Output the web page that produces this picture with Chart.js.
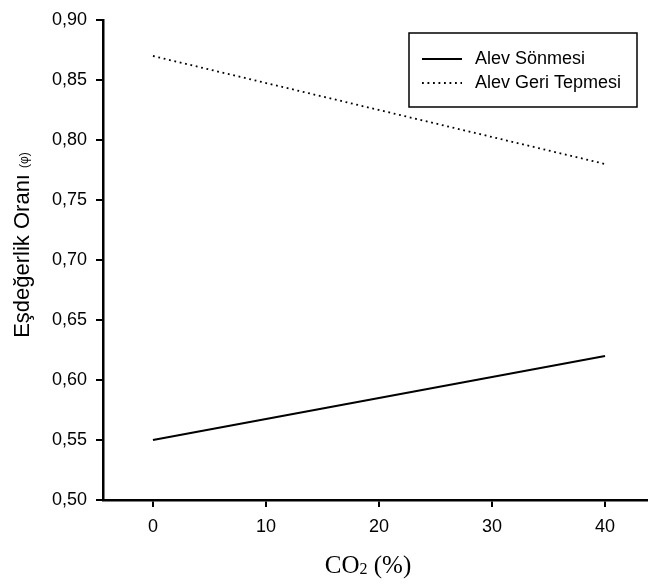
<!DOCTYPE html>
<html>
<head>
<meta charset="utf-8">
<script src="https://cdn.jsdelivr.net/npm/chart.js@4"></script>
<style>
  html, body { margin: 0; padding: 0; background: #fff; }
  #wrap { width: 648px; height: 585px; }
</style>
</head>
<body>
<div id="wrap"><canvas id="c" width="648" height="585"></canvas></div>
<script>
const co2 = [0, 40];
const alevSonmesi = [0.55, 0.62];
const alevGeriTepmesi = [0.87, 0.78];
const xTicks = [0, 10, 20, 30, 40];
const yTicks = [0.50, 0.55, 0.60, 0.65, 0.70, 0.75, 0.80, 0.85, 0.90];
const seriesLabels = ['Alev Sönmesi', 'Alev Geri Tepmesi'];
const xTitleParts = ['CO', '2', ' (%)'];
const yTitleMain = 'Eşdeğerlik Oranı';
const yTitleSub = '(φ)';

const SANS = '"Liberation Sans", Arial, sans-serif';
const SERIF = '"Liberation Serif", "Times New Roman", serif';
const tickFont = { family: SANS, size: 18 };

const titlesAndLegend = {
  id: 'titlesAndLegend',
  afterDraw(chart) {
    const ctx = chart.ctx;
    ctx.save();
    ctx.fillStyle = '#000';
    ctx.textBaseline = 'alphabetic';
    ctx.textAlign = 'left';
    // x title: CO + subscript 2 + (%)
    const big = '25px ' + SERIF, small = '16px ' + SERIF;
    ctx.font = big; const w1 = ctx.measureText(xTitleParts[0]).width;
    ctx.font = small; const w2 = ctx.measureText(xTitleParts[1]).width;
    ctx.font = big; const w3 = ctx.measureText(xTitleParts[2]).width;
    let x0 = 368 - (w1 + w2 + w3) / 2;
    const base = 573;
    ctx.font = big; ctx.fillText(xTitleParts[0], x0, base);
    ctx.font = small; ctx.fillText(xTitleParts[1], x0 + w1, base + 1);
    ctx.font = big; ctx.fillText(xTitleParts[2], x0 + w1 + w2, base);
    ctx.restore();

    // y title (rotated)
    ctx.save();
    ctx.fillStyle = '#000';
    ctx.translate(29, 245);
    ctx.rotate(-Math.PI / 2);
    ctx.font = '22px ' + SANS;
    const mainW = ctx.measureText(yTitleMain + ' ').width;
    ctx.font = '12px ' + SANS;
    const subW = ctx.measureText(yTitleSub).width;
    const total = mainW + subW;
    ctx.textAlign = 'left';
    ctx.textBaseline = 'alphabetic';
    ctx.font = '22px ' + SANS;
    ctx.fillText(yTitleMain, -total / 2, 0);
    ctx.font = '12px ' + SANS;
    ctx.fillText(yTitleSub, -total / 2 + mainW, -1);
    ctx.restore();

    // legend box
    ctx.save();
    const bx = 409, by = 33, bw = 228, bh = 74;
    ctx.strokeStyle = '#000';
    ctx.lineWidth = 1.5;
    ctx.strokeRect(bx, by, bw, bh);
    chart.data.datasets.forEach((ds, i) => {
      const yy = 59 + i * 24;
      ctx.beginPath();
      ctx.setLineDash(ds.borderDash || []);
      ctx.lineWidth = ds.borderWidth;
      ctx.strokeStyle = '#000';
      ctx.moveTo(422, yy);
      ctx.lineTo(462, yy);
      ctx.stroke();
      ctx.setLineDash([]);
      ctx.fillStyle = '#000';
      ctx.font = '18px ' + SANS;
      ctx.textAlign = 'left';
      ctx.textBaseline = 'middle';
      ctx.fillText(ds.label, 475, yy);
    });
    ctx.restore();
  }
};

new Chart(document.getElementById('c'), {
  type: 'line',
  data: {
    datasets: [
      {
        label: seriesLabels[0],
        data: co2.map((x, i) => ({ x, y: alevSonmesi[i] })),
        borderColor: '#000',
        borderWidth: 2,
        pointRadius: 0,
        fill: false
      },
      {
        label: seriesLabels[1],
        data: co2.map((x, i) => ({ x, y: alevGeriTepmesi[i] })),
        borderColor: '#000',
        borderWidth: 1.8,
        borderDash: [1.8, 3.7],
        pointRadius: 0,
        fill: false
      }
    ]
  },
  options: {
    responsive: false,
    animation: false,
    layout: { padding: { left: 0, top: 20, right: 0, bottom: 0 } },
    plugins: { legend: { display: false }, tooltip: { enabled: false } },
    scales: {
      x: {
        type: 'linear',
        min: -4.42,
        max: 43.8,
        afterBuildTicks(s) { s.ticks = xTicks.map(v => ({ value: v })); },
        afterFit(s) { s.height = 85; },
        grid: { drawOnChartArea: false, drawTicks: true, tickLength: 7, color: '#000', lineWidth: 2 },
        border: { display: true, color: '#000', width: 2.5 },
        ticks: { color: '#000', font: tickFont, padding: 9, maxRotation: 0 }
      },
      y: {
        min: 0.5,
        max: 0.9,
        afterBuildTicks(s) { s.ticks = yTicks.map(v => ({ value: v })); },
        afterFit(s) { s.width = 103; },
        grid: { drawOnChartArea: false, drawTicks: true, tickLength: 7, color: '#000', lineWidth: 2 },
        border: { display: true, color: '#000', width: 2.5 },
        ticks: { color: '#000', font: tickFont, padding: 9,
          callback: v => v.toFixed(2).replace('.', ',') }
      }
    }
  },
  plugins: [titlesAndLegend]
});
</script>
</body>
</html>
